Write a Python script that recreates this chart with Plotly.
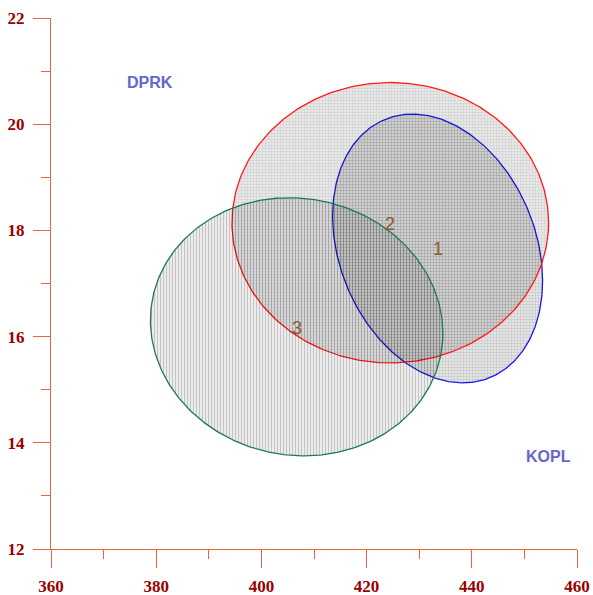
import numpy as np
import plotly.graph_objects as go

# ---- data ----
groups = ["1", "2", "3"]
center_x = [433.5, 424.5, 406.7]
center_y = [17.66, 18.145, 16.185]
half_x = [19.96, 30.1, 27.8]
half_y = [2.53, 2.64, 2.43]
rho = [-0.24, 0.0, -0.05]
line_colors = ["#1a1ae6", "#ff1a1a", "#1f7a4a"]

x_ticks = [360, 380, 400, 420, 440, 460]
y_ticks = [12, 14, 16, 18, 20, 22]
x_title = "KOPL"
y_title = "DPRK"

axis_color = "#E8673F"
tick_font = dict(family="Liberation Serif", size=17, color="#990000", weight="bold")

fig = go.Figure()
t = np.linspace(0, 2 * np.pi, 361)
pattern_style = [
    dict(shape=".", size=3, solidity=0.5, fgcolor="rgba(0,0,0,0.30)", bgcolor="rgba(0,0,0,0.07)"),
    dict(shape=".", size=3, solidity=0.5, fgcolor="rgba(0,0,0,0.24)", bgcolor="rgba(0,0,0,0.06)"),
    dict(shape="|", size=3, solidity=0.45, fgcolor="rgba(0,0,0,0.40)", bgcolor="rgba(0,0,0,0.04)"),
]
for i, g in enumerate(groups):
    d = np.arccos(rho[i])
    ex = center_x[i] + half_x[i] * np.cos(t)
    ey = center_y[i] + half_y[i] * np.cos(t - d)
    fig.add_trace(go.Scatter(
        x=ex, y=ey, mode="lines", fill="toself",
        fillcolor="rgba(0,0,0,0)",
        fillpattern=pattern_style[i],
        line=dict(color=line_colors[i], width=1.3),
        hoverinfo="skip", showlegend=False,
    ))

for i, g in enumerate(groups):
    fig.add_annotation(x=center_x[i], y=center_y[i], text=g, showarrow=False, yshift=-1,
                       font=dict(family="Liberation Sans", size=18, color="#8a5a32"))

fig.add_annotation(x=378.8, y=20.78, text=y_title, showarrow=False,
                   font=dict(family="Liberation Sans", size=16, color="#6666CC", weight="bold"))
fig.add_annotation(x=454.5, y=13.75, text=x_title, showarrow=False,
                   font=dict(family="Liberation Sans", size=16, color="#6666CC", weight="bold"))

fig.update_layout(
    width=593, height=595,
    margin=dict(l=51, r=16, t=18, b=46),
    paper_bgcolor="white", plot_bgcolor="white",
    xaxis=dict(range=[360, 460], tickvals=x_ticks, showgrid=False, zeroline=False,
               automargin=False,
               showline=True, linecolor=axis_color, linewidth=1.3,
               ticks="outside", ticklen=18, tickcolor=axis_color, tickwidth=1.3,
               minor=dict(ticks="outside", ticklen=9, dtick=10, tickcolor=axis_color, tickwidth=1.3, showgrid=False),
               tickfont=tick_font, ticklabelstandoff=3),
    yaxis=dict(range=[12, 22], tickvals=y_ticks, showgrid=False, zeroline=False,
               automargin=False,
               showline=True, linecolor=axis_color, linewidth=1.3,
               ticks="outside", ticklen=17, tickcolor=axis_color, tickwidth=1.3,
               minor=dict(ticks="outside", ticklen=9, dtick=1, tickcolor=axis_color, tickwidth=1.3, showgrid=False),
               tickfont=tick_font, ticklabelstandoff=5),
)

fig.write_html("out.html", config={"displayModeBar": False},
               post_script="document.body.style.margin='0';")
